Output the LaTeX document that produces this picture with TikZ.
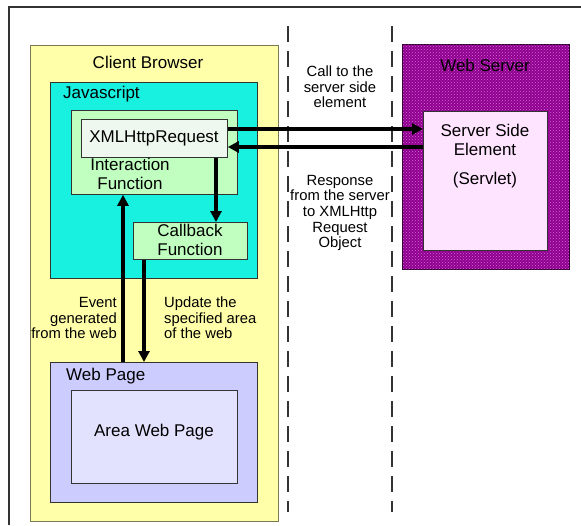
\documentclass[tikz,border=0pt]{standalone}
\usepackage{fontspec}
\setmainfont{Liberation Sans}
\usetikzlibrary{arrows.meta,patterns}
\definecolor{frm}{HTML}{333333}
\definecolor{yel}{HTML}{FFFFAA}
\definecolor{yelb}{HTML}{7A7A55}
\definecolor{cya}{HTML}{18F0E0}
\definecolor{grn}{HTML}{C0FFC0}
\definecolor{xmlc}{HTML}{EEF8EE}
\definecolor{wpc}{HTML}{CCCCFF}
\definecolor{areac}{HTML}{E2E2FF}
\definecolor{wsc}{HTML}{8E008E}
\definecolor{wsdot}{HTML}{D868D8}
\definecolor{ssec}{HTML}{FFE4FF}
\tikzset{
  box/.style={draw=black!80, line width=0.8pt, anchor=north west, inner sep=0pt},
  big/.style={font=\fontsize{17}{19}\selectfont, inner sep=0pt, align=center},
  small/.style={font=\fontsize{14.8}{15.6}\selectfont, inner sep=0pt},
  arr/.style={line width=3.2pt, -{Triangle[length=11pt,width=11pt]}},
  sep/.style={draw=frm, line width=1.1pt, dash pattern=on 16pt off 9pt},
}
\begin{document}
\begin{tikzpicture}[x=1pt,y=-1pt]
\useasboundingbox (0,0) rectangle (581,525);
% outer frame
\coordinate (fa) at (9,525);
\coordinate (fb) at (9,7);
\coordinate (fc) at (581,7);
\draw[frm, line width=1.4pt] (fa) -- (fb) -- (fc);
% separators
\coordinate (s1t) at (288,26);
\coordinate (s1b) at (288,512);
\coordinate (s2t) at (392,26);
\coordinate (s2b) at (392,512);
\draw[sep] (s1t) -- (s1b);
\draw[sep] (s2t) -- (s2b);
% client browser
\node[box, draw=yelb, fill=yel, minimum width=248pt, minimum height=476pt] (cb) at (30,45) {};
\node[big] (cbt) at (148,62) {Client Browser};
\node[box, fill=cya, minimum width=207pt, minimum height=196pt] (js) at (50,82) {};
\node[big, anchor=west] (jst) at (63,94) {Javascript};
\node[box, fill=grn, minimum width=166pt, minimum height=84pt] (inter) at (71,110) {};
\node[box, fill=xmlc, minimum width=146pt, minimum height=38pt] (xml) at (81,119) {};
\node[big] (xmlt) at (154,138) {XMLHttpRequest};
\node[big] (intt) at (130,174) {Interaction\\Function};
\node[box, fill=grn, minimum width=114pt, minimum height=37pt] (cbk) at (133,222) {};
\node[big] (cbkt) at (190,240) {Callback\\Function};
\node[box, fill=wpc, minimum width=207pt, minimum height=140pt] (wp) at (50,362) {};
\node[big, anchor=west] (wpt) at (66,376) {Web Page};
\node[box, fill=areac, minimum width=166pt, minimum height=93pt] (area) at (71,390) {};
\node[big] (areat) at (154,432) {Area Web Page};
% web server
\node[box, draw=black!70!wsc, fill=wsc, postaction={pattern=crosshatch dots, pattern color=wsdot}, minimum width=167pt, minimum height=225pt] (ws) at (402,44) {};
\node[big] (wst) at (485,65) {Web Server};
\node[box, fill=ssec, minimum width=124pt, minimum height=139pt] (sse) at (423,111) {};
\node[big] (sset) at (485,140) {Server Side\\Element};
\node[big] (svt) at (485,180) {(Servlet)};
% labels
\node[small, align=center] (call) at (340,87) {Call to the\\server side\\element};
\node[small, align=center] (resp) at (340,213) {Response\\from the server\\to XMLHttp\\Request\\Object};
\node[small, align=right, anchor=east] (ev) at (117,318) {Event\\generated\\from the web};
\node[small, align=left, anchor=west] (upd) at (164,318) {Update the\\specified area\\of the web};
% arrows
\coordinate (y1) at (0,129);
\coordinate (y2) at (0,147);
\coordinate (xa) at (216,0);
\coordinate (xb) at (123,0);
\coordinate (xc) at (144,0);
\draw[arr] (xml.east |- y1) -- (sse.west |- y1);
\draw[arr] (sse.west |- y2) -- (xml.east |- y2);
\draw[arr] (xml.south -| xa) -- (cbk.north -| xa);
\draw[arr] (wp.north -| xb) -- (inter.south -| xb);
\draw[arr] (cbk.south -| xc) -- (wp.north -| xc);
\end{tikzpicture}
\end{document}
